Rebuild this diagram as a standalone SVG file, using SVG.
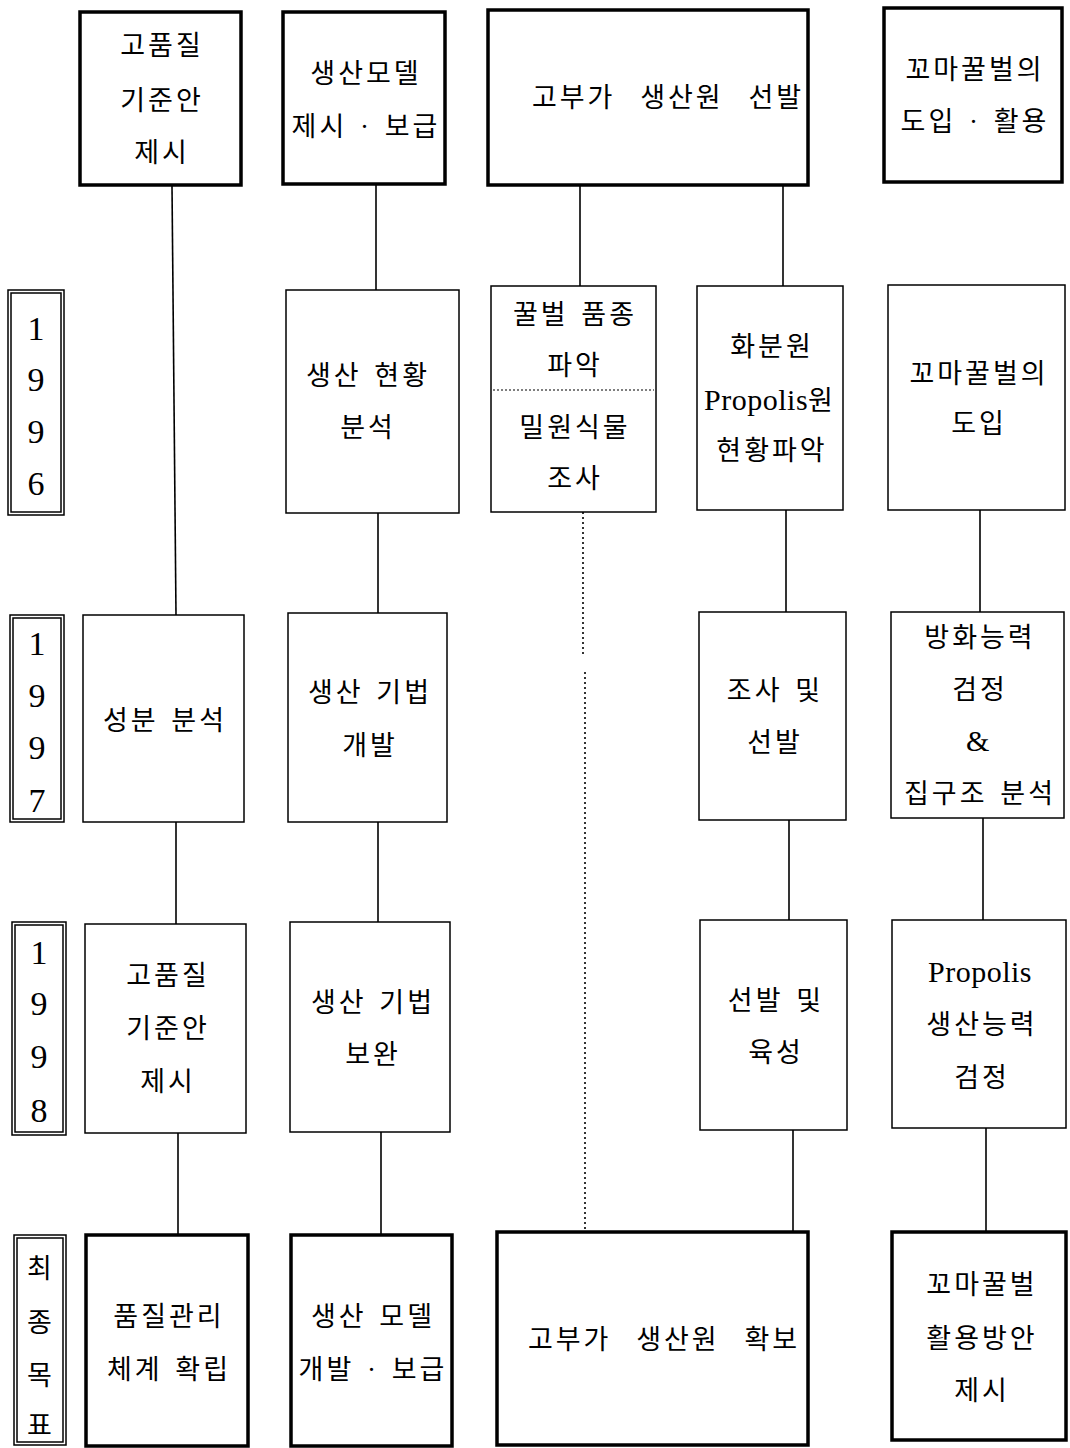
<svg xmlns="http://www.w3.org/2000/svg" width="1070" height="1448" viewBox="0 0 1070 1448">
<style>
.bx{fill:#fff;stroke:#000;stroke-width:1.5}
.bk{fill:#fff;stroke:#000;stroke-width:3.5}
.yr{fill:none;stroke:#000;stroke-width:1.5}
.ln{stroke:#000;stroke-width:1.6;fill:none}
.dl{stroke:#000;stroke-width:1.6;fill:none;stroke-dasharray:2 3}
text{font-family:"Liberation Serif","Noto Sans CJK KR",serif;fill:#000;text-anchor:middle}
.t{font-size:27px;letter-spacing:3px;word-spacing:3px}
.w{word-spacing:15px}
.n{font-size:34px}
.l{font-size:30px;letter-spacing:0.5px;word-spacing:0}
</style>
<rect width="1070" height="1448" fill="#fff"/>
<g id="connectors">
<line class="ln" x1="172" y1="186" x2="176" y2="615"/>
<line class="ln" x1="376" y1="184" x2="376" y2="290"/>
<line class="ln" x1="580" y1="185" x2="580" y2="286"/>
<line class="ln" x1="783" y1="185" x2="783" y2="286"/>
<line class="ln" x1="378" y1="513" x2="378" y2="613"/>
<line class="dl" x1="583" y1="512" x2="583" y2="657"/>
<line class="dl" x1="585" y1="672" x2="585" y2="1232"/>
<line class="ln" x1="786" y1="510" x2="786" y2="612"/>
<line class="ln" x1="980" y1="510" x2="980" y2="612"/>
<line class="ln" x1="176" y1="822" x2="176" y2="924"/>
<line class="ln" x1="378" y1="822" x2="378" y2="922"/>
<line class="ln" x1="789" y1="820" x2="789" y2="920"/>
<line class="ln" x1="983" y1="818" x2="983" y2="920"/>
<line class="ln" x1="178" y1="1133" x2="178" y2="1235"/>
<line class="ln" x1="381" y1="1132" x2="381" y2="1235"/>
<line class="ln" x1="793" y1="1130" x2="793" y2="1232"/>
<line class="ln" x1="986" y1="1128" x2="986" y2="1232"/>
</g>
<g id="top-a"><rect class="bk" x="80" y="12" width="161" height="173"/>
<text class="t" x="162" y="55">고품질</text><text class="t" x="162" y="110">기준안</text><text class="t" x="162" y="162">제시</text></g>
<g id="top-b"><rect class="bk" x="283" y="12" width="162" height="172"/>
<text class="t" x="366" y="83">생산모델</text><text class="t" x="366" y="136">제시 · 보급</text></g>
<g id="top-c"><rect class="bk" x="488" y="10" width="320" height="175"/>
<text class="t w" x="668" y="107">고부가 생산원 선발</text></g>
<g id="top-d"><rect class="bk" x="884" y="8" width="178" height="174"/>
<text class="t" x="975" y="79">꼬마꿀벌의</text><text class="t" x="975" y="131">도입 · 활용</text></g>

<g id="y1996"><rect class="yr" x="8" y="290" width="56" height="225"/><rect class="yr" x="11" y="293" width="50" height="219"/>
<text class="n" x="36" y="340">1</text><text class="n" x="36" y="391">9</text><text class="n" x="36" y="443">9</text><text class="n" x="36" y="495">6</text></g>
<g id="n96-b"><rect class="bx" x="286" y="290" width="173" height="223"/>
<text class="t" x="368" y="385">생산 현황</text><text class="t" x="368" y="437">분석</text></g>
<g id="n96-c"><rect class="bx" x="491" y="286" width="165" height="226"/>
<line class="dl" x1="493" y1="390" x2="654" y2="390" style="stroke-width:1.2;stroke-dasharray:2 2"/>
<text class="t" x="575" y="324">꿀벌 품종</text><text class="t" x="575" y="375">파악</text><text class="t" x="575" y="437">밀원식물</text><text class="t" x="575" y="488">조사</text></g>
<g id="n96-d"><rect class="bx" x="697" y="286" width="146" height="224"/>
<text class="t" x="772" y="356">화분원</text><text class="t" x="770" y="410"><tspan class="l">Propolis</tspan>원</text><text class="t" x="772" y="460">현황파악</text></g>
<g id="n96-e"><rect class="bx" x="888" y="285" width="177" height="225"/>
<text class="t" x="979" y="383">꼬마꿀벌의</text><text class="t" x="979" y="433">도입</text></g>

<g id="y1997"><rect class="yr" x="10" y="615" width="54" height="207"/><rect class="yr" x="13" y="618" width="48" height="201"/>
<text class="n" x="37" y="655">1</text><text class="n" x="37" y="707">9</text><text class="n" x="37" y="759">9</text><text class="n" x="37" y="812">7</text></g>
<g id="n97-a"><rect class="bx" x="83" y="615" width="161" height="207"/>
<text class="t" x="165" y="730">성분 분석</text></g>
<g id="n97-b"><rect class="bx" x="288" y="613" width="159" height="209"/>
<text class="t" x="370" y="702">생산 기법</text><text class="t" x="370" y="755">개발</text></g>
<g id="n97-d"><rect class="bx" x="699" y="612" width="147" height="208"/>
<text class="t" x="775" y="700">조사 및</text><text class="t" x="775" y="752">선발</text></g>
<g id="n97-e"><rect class="bx" x="891" y="612" width="173" height="206"/>
<text class="t" x="980" y="647">방화능력</text><text class="t" x="980" y="699">검정</text><text class="l" x="978" y="751">&amp;</text><text class="t" x="980" y="803">집구조 분석</text></g>

<g id="y1998"><rect class="yr" x="12" y="922" width="54" height="213"/><rect class="yr" x="15" y="925" width="48" height="207"/>
<text class="n" x="39" y="964">1</text><text class="n" x="39" y="1015">9</text><text class="n" x="39" y="1068">9</text><text class="n" x="39" y="1122">8</text></g>
<g id="n98-a"><rect class="bx" x="85" y="924" width="161" height="209"/>
<text class="t" x="168" y="985">고품질</text><text class="t" x="168" y="1038">기준안</text><text class="t" x="168" y="1091">제시</text></g>
<g id="n98-b"><rect class="bx" x="290" y="922" width="160" height="210"/>
<text class="t" x="373" y="1012">생산 기법</text><text class="t" x="373" y="1064">보완</text></g>
<g id="n98-d"><rect class="bx" x="700" y="920" width="147" height="210"/>
<text class="t" x="776" y="1010">선발 및</text><text class="t" x="776" y="1062">육성</text></g>
<g id="n98-e"><rect class="bx" x="892" y="920" width="174" height="208"/>
<text class="l" x="980" y="982">Propolis</text><text class="t" x="982" y="1034">생산능력</text><text class="t" x="982" y="1087">검정</text></g>

<g id="final-year"><rect class="yr" x="14" y="1235" width="52" height="210"/><rect class="yr" x="17" y="1238" width="46" height="204"/>
<text class="t" x="41" y="1278">최</text><text class="t" x="41" y="1332">종</text><text class="t" x="41" y="1385">목</text><text class="t" x="41" y="1435">표</text></g>
<g id="final-a"><rect class="bk" x="86" y="1235" width="162" height="211"/>
<text class="t" x="169" y="1326">품질관리</text><text class="t" x="169" y="1379">체계 확립</text></g>
<g id="final-b"><rect class="bk" x="291" y="1235" width="161" height="211"/>
<text class="t" x="373" y="1326">생산 모델</text><text class="t" x="373" y="1379">개발 · 보급</text></g>
<g id="final-c"><rect class="bk" x="497" y="1232" width="311" height="213"/>
<text class="t w" x="664" y="1349">고부가 생산원 확보</text></g>
<g id="final-d"><rect class="bk" x="892" y="1232" width="174" height="208"/>
<text class="t" x="982" y="1294">꼬마꿀벌</text><text class="t" x="982" y="1348">활용방안</text><text class="t" x="982" y="1400">제시</text></g>
</svg>
